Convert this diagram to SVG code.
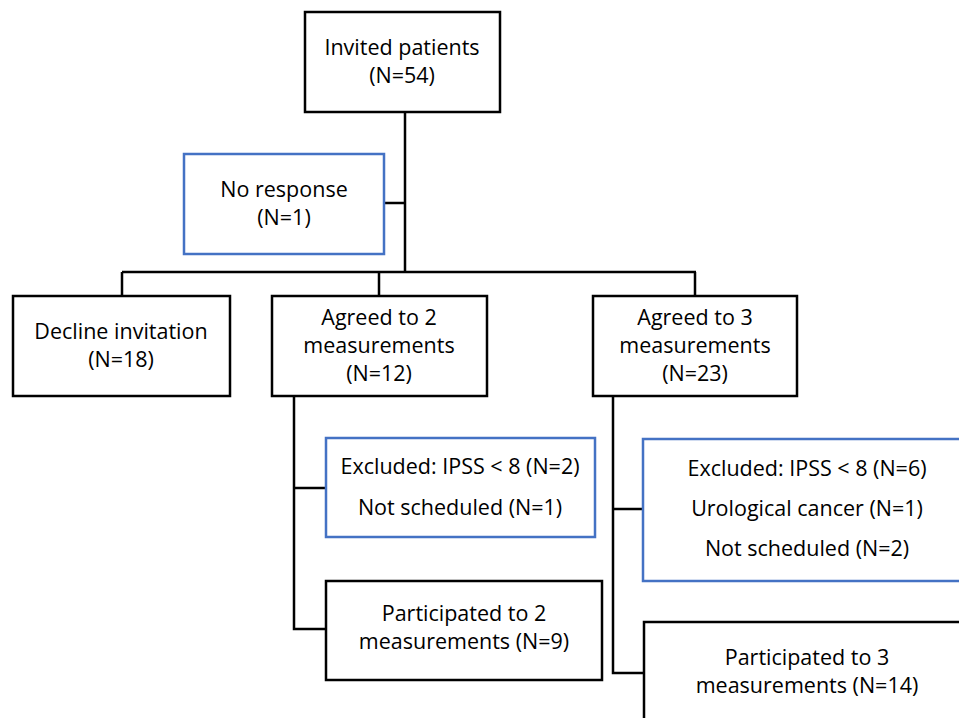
<svg xmlns="http://www.w3.org/2000/svg" width="959" height="718" viewBox="0 0 959 718">
<style>
.b{fill:#fff;stroke:#000;stroke-width:2.5}
.u{fill:#fff;stroke:#4472C4;stroke-width:2.5}
.c{fill:none;stroke:#000;stroke-width:2.5}
text{font-family:"Open Sans","Liberation Sans",sans-serif;font-size:21.5px;fill:#000;text-anchor:middle}
</style>
<rect width="959" height="718" fill="#fff"/>
<g id="connectors">
<path class="c" d="M405 112V272M384 203H405M122 272H696M122 272V296M379 272V296M695 272V296"/>
<path class="c" d="M294 396V629H326M294 488H326"/>
<path class="c" d="M613 396V673H644M613 509H643"/>
</g>
<g id="invited"><rect class="b" x="305" y="12" width="195" height="100"/><text x="402" y="55">Invited patients</text><text x="402" y="83">(N=54)</text></g>
<g id="noresponse"><rect class="u" x="184" y="154" width="200" height="100"/><text x="284" y="197">No response</text><text x="284" y="225">(N=1)</text></g>
<g id="decline"><rect class="b" x="13" y="296" width="217" height="100"/><text x="121" y="339">Decline invitation</text><text x="121" y="367">(N=18)</text></g>
<g id="agreed2"><rect class="b" x="272" y="296" width="215" height="100"/><text x="379" y="325">Agreed to 2</text><text x="379" y="353">measurements</text><text x="379" y="381">(N=12)</text></g>
<g id="agreed3"><rect class="b" x="593" y="296" width="204" height="100"/><text x="695" y="325">Agreed to 3</text><text x="695" y="353">measurements</text><text x="695" y="381">(N=23)</text></g>
<g id="excluded2"><rect class="u" x="326" y="438" width="269" height="99"/><text x="460" y="474">Excluded: IPSS &lt; 8 (N=2)</text><text x="460" y="515">Not scheduled (N=1)</text></g>
<g id="participated2"><rect class="b" x="326" y="581" width="276" height="99"/><text x="464" y="621">Participated to 2</text><text x="464" y="649">measurements (N=9)</text></g>
<g id="excluded3"><rect class="u" x="643" y="439" width="330" height="142"/><text x="807" y="476">Excluded: IPSS &lt; 8 (N=6)</text><text x="807" y="516">Urological cancer (N=1)</text><text x="807" y="556">Not scheduled (N=2)</text></g>
<g id="participated3"><rect class="b" x="644" y="622" width="330" height="110"/><text x="807" y="665">Participated to 3</text><text x="807" y="693">measurements (N=14)</text></g>
</svg>
